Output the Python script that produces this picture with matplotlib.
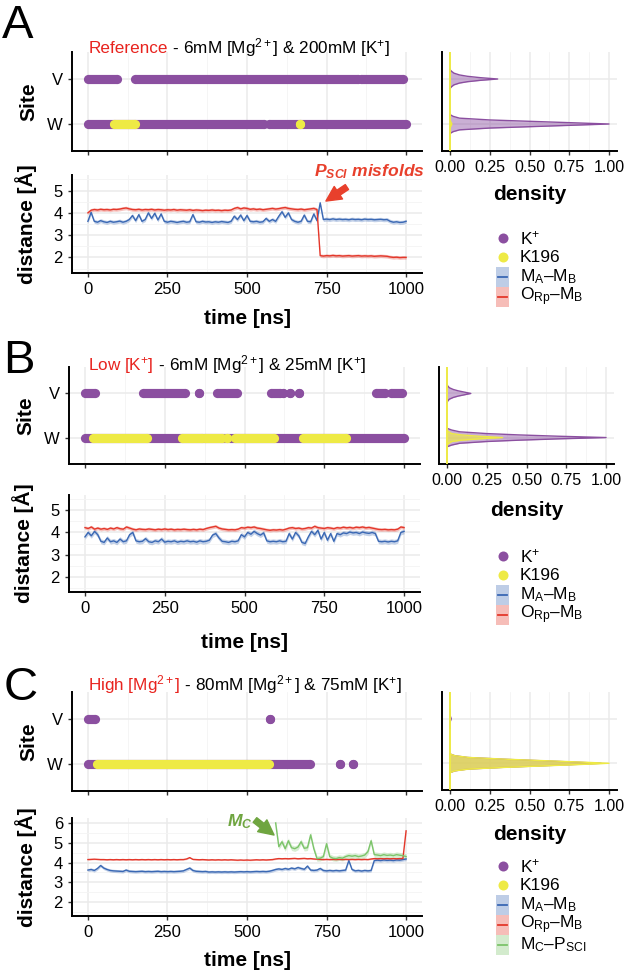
import numpy as np
import matplotlib
matplotlib.use('Agg')
import matplotlib.pyplot as plt
from matplotlib.patches import Rectangle
from matplotlib.ticker import NullLocator

plt.rcParams['font.family'] = ['Liberation Sans', 'DejaVu Sans']
plt.rcParams['mathtext.fontset'] = 'custom'
plt.rcParams['mathtext.rm'] = 'Liberation Sans'
plt.rcParams['mathtext.sf'] = 'Liberation Sans'
plt.rcParams['mathtext.it'] = 'Liberation Sans:italic'
plt.rcParams['mathtext.bf'] = 'Liberation Sans:bold'
plt.rcParams['mathtext.bfit'] = 'Liberation Sans:italic:bold'

# ---------------- data ----------------
time_ns = np.arange(0, 1001, 10)
time_mc = np.arange(590, 1001, 10)
time_ticks = [0, 250, 500, 750, 1000]
density_ticks = [0.0, 0.25, 0.5, 0.75, 1.0]
site_labels = ['W', 'V']          # y positions 1, 2

# site occupancy (start, end) in ns
A_kplus_V = [(0, 91), (149, 848), (858, 990)]
A_kplus_W = [(0, 552), (568, 1000)]
A_k196_W = [(81, 149), (667, 667)]

B_kplus_V = [(0, 30), (183, 313), (358, 358), (415, 478), (582, 611), (620, 620),
             (643, 643), (672, 672), (912, 940), (958, 993)]
B_kplus_W = [(0, 1000)]
B_k196_W = [(26, 193), (303, 368), (376, 428), (444, 444), (470, 592), (684, 817)]

C_kplus_V = [(0, 23), (571, 571)]
C_kplus_W = [(0, 698), (793, 793), (832, 832)]
C_k196_W = [(28, 568)]

# distances [A]
A_ORp = [4.00, 4.12, 4.15, 4.13, 4.16, 4.14, 4.15, 4.13, 4.16, 4.15,
         4.17, 4.20, 4.22, 4.18, 4.15, 4.14, 4.16, 4.13, 4.15, 4.14,
         4.16, 4.13, 4.15, 4.14, 4.12, 4.14, 4.13, 4.15, 4.12, 4.14,
         4.13, 4.12, 4.14, 4.11, 4.13, 4.12, 4.10, 4.12, 4.11, 4.13,
         4.11, 4.12, 4.10, 4.12, 4.11, 4.13, 4.20, 4.24, 4.18, 4.22,
         4.20, 4.16, 4.18, 4.15, 4.17, 4.14, 4.16, 4.18, 4.20, 4.17,
         4.19, 4.22, 4.24, 4.20, 4.18, 4.16, 4.15, 4.17, 4.14, 4.16,
         4.18, 4.20, 4.15, 2.08, 2.06, 2.08, 2.07, 2.09, 2.07, 2.08,
         2.06, 2.07, 2.08, 2.06, 2.07, 2.08, 2.06, 2.07, 2.06, 2.07,
         2.05, 2.06, 2.07, 2.06, 2.05, 2.02, 2.00, 2.01, 1.99, 2.00,
         2.00]
A_MA = [3.62, 4.02, 3.62, 3.58, 3.65, 3.60, 3.57, 3.62, 3.58, 3.60,
        3.63, 3.58, 3.62, 3.70, 3.88, 3.65, 3.92, 3.62, 3.70, 4.00,
        3.75, 3.98, 3.68, 3.95, 3.62, 3.58, 3.62, 3.60, 3.57, 3.60,
        3.62, 3.58, 3.60, 3.92, 3.60, 3.58, 3.62, 3.59, 3.60, 3.57,
        3.60, 3.58, 3.61, 3.59, 3.57, 3.62, 3.85, 3.70, 3.90, 3.65,
        3.88, 3.62, 3.60, 3.62, 3.58, 3.60, 3.75, 3.62, 3.70, 3.62,
        3.85, 4.05, 3.80, 4.00, 3.70, 3.62, 3.58, 3.62, 3.90, 3.62,
        3.60, 3.95, 3.65, 4.45, 3.70, 3.72, 3.70, 3.73, 3.70, 3.72,
        3.70, 3.71, 3.69, 3.72, 3.70, 3.71, 3.69, 3.72, 3.70, 3.71,
        3.69, 3.70, 3.71, 3.69, 3.70, 3.62, 3.58, 3.60, 3.57, 3.58,
        3.62]
B_ORp = [4.22, 4.18, 4.25, 4.15, 4.20, 4.15, 4.18, 4.14, 4.20, 4.16,
         4.22, 4.17, 4.15, 4.25, 4.20, 4.15, 4.12, 4.16, 4.14, 4.13,
         4.16, 4.14, 4.12, 4.15, 4.13, 4.16, 4.13, 4.15, 4.12, 4.14,
         4.13, 4.15, 4.13, 4.12, 4.14, 4.12, 4.15, 4.13, 4.18, 4.22,
         4.25, 4.28, 4.20, 4.16, 4.14, 4.12, 4.13, 4.12, 4.15, 4.22,
         4.20, 4.24, 4.22, 4.25, 4.20, 4.18, 4.15, 4.12, 4.10, 4.12,
         4.11, 4.13, 4.11, 4.15, 4.20, 4.22, 4.18, 4.20, 4.16, 4.18,
         4.22, 4.20, 4.28, 4.22, 4.20, 4.18, 4.22, 4.20, 4.17, 4.22,
         4.20, 4.24, 4.21, 4.23, 4.20, 4.24, 4.22, 4.25, 4.21, 4.23,
         4.20, 4.17, 4.14, 4.13, 4.14, 4.12, 4.13, 4.12, 4.15, 4.25,
         4.22]
B_MA = [3.80, 4.00, 3.85, 4.05, 3.90, 3.60, 3.55, 3.75, 3.58, 3.62,
        3.55, 3.70, 3.58, 3.62, 3.90, 4.00, 3.62, 3.58, 3.60, 3.72,
        3.58, 3.55, 3.62, 3.58, 3.70, 3.56, 3.60, 3.58, 3.62, 3.56,
        3.60, 3.58, 3.62, 3.58, 3.60, 3.56, 3.62, 3.58, 3.60, 3.65,
        3.88, 3.95, 3.75, 3.60, 3.58, 3.55, 3.60, 3.58, 3.62, 3.90,
        3.80, 4.00, 3.92, 4.05, 3.95, 3.88, 3.98, 3.62, 3.58, 3.60,
        3.58, 3.62, 3.58, 3.60, 3.95, 3.70, 4.00, 3.85, 3.55, 3.50,
        3.80, 4.05, 3.90, 4.10, 3.70, 4.00, 3.65, 3.95, 3.60, 3.95,
        3.90, 3.98, 3.95, 4.02, 3.98, 4.00, 3.95, 4.02, 3.98, 3.96,
        4.00, 3.95, 3.60, 3.58, 3.60, 3.57, 3.60, 3.58, 3.62, 4.00,
        4.05]
C_ORp = [4.15, 4.16, 4.17, 4.16, 4.15, 4.15, 4.14, 4.15, 4.14, 4.15,
         4.14, 4.15, 4.14, 4.15, 4.14, 4.15, 4.14, 4.15, 4.14, 4.15,
         4.14, 4.15, 4.14, 4.15, 4.14, 4.15, 4.14, 4.15, 4.14, 4.15,
         4.15, 4.18, 4.25, 4.16, 4.15, 4.14, 4.15, 4.14, 4.13, 4.14,
         4.13, 4.14, 4.13, 4.14, 4.13, 4.14, 4.13, 4.12, 4.13, 4.12,
         4.13, 4.12, 4.13, 4.14, 4.13, 4.14, 4.13, 4.14, 4.15, 4.18,
         4.20, 4.19, 4.20, 4.19, 4.20, 4.21, 4.19, 4.20, 4.21, 4.19,
         4.20, 4.18, 4.17, 4.16, 4.15, 4.16, 4.15, 4.16, 4.15, 4.16,
         4.15, 4.16, 4.15, 4.16, 4.15, 4.16, 4.15, 4.16, 4.15, 4.18,
         4.20, 4.19, 4.20, 4.19, 4.20, 4.19, 4.20, 4.19, 4.20, 4.20,
         5.60]
C_MA = [3.62, 3.65, 3.60, 3.70, 3.85, 3.72, 3.65, 3.60, 3.58, 3.57,
        3.56, 3.55, 3.62, 3.56, 3.55, 3.54, 3.55, 3.56, 3.54, 3.55,
        3.54, 3.55, 3.56, 3.54, 3.55, 3.54, 3.55, 3.54, 3.55, 3.56,
        3.58, 3.65, 3.72, 3.60, 3.56, 3.55, 3.54, 3.55, 3.52, 3.53,
        3.52, 3.53, 3.52, 3.53, 3.52, 3.53, 3.52, 3.53, 3.54, 3.53,
        3.54, 3.53, 3.54, 3.55, 3.54, 3.55, 3.54, 3.56, 3.60, 3.65,
        3.68, 3.65, 3.70, 3.66, 3.72, 3.68, 3.75, 3.70, 3.66, 3.82,
        3.62, 3.60, 3.62, 3.70, 3.60, 3.58, 3.60, 3.58, 3.60, 3.58,
        3.60, 3.62, 4.10, 3.65, 3.58, 3.60, 3.57, 3.60, 3.58, 3.60,
        4.10, 4.12, 4.10, 4.13, 4.11, 4.12, 4.10, 4.13, 4.12, 4.15,
        4.18]
C_MC = [6.00, 4.80, 5.05, 4.70, 5.10, 4.75, 4.70, 4.78, 5.05, 4.72,
        4.75, 5.40, 4.70, 4.20, 4.22, 4.30, 4.95, 4.30, 4.22, 4.20,
        4.25, 4.22, 4.30, 4.35, 4.32, 4.35, 4.30, 4.33, 4.38, 4.55,
        5.10, 4.40, 4.38, 4.35, 4.40, 4.36, 4.38, 4.35, 4.40, 4.37,
        4.35, 4.30]

# ribbon half-widths [A]
A_spread = {'MA': 0.09, 'ORp': 0.08}
B_spread = {'MA': 0.11, 'ORp': 0.08}
C_spread = {'MA': 0.08, 'ORp': 0.03, 'MC': 0.14}

# scaled densities vs offset from site level
dens_offset = [0.00, 0.03, 0.06, 0.09, 0.13, 0.17, 0.21]
A_dens_kplus_W = [1.00, 0.75, 0.50, 0.25, 0.06, 0.02, 0.00]
A_dens_kplus_V = [0.30, 0.19, 0.11, 0.06, 0.025, 0.01, 0.00]
A_dens_k196_W = [0.012, 0.008, 0.004, 0.002, 0.0, 0.0, 0.0]
B_dens_kplus_W = [1.00, 0.70, 0.45, 0.25, 0.08, 0.03, 0.00]
B_dens_kplus_V = [0.15, 0.11, 0.07, 0.04, 0.015, 0.005, 0.00]
B_dens_k196_W = [0.35, 0.20, 0.09, 0.03, 0.01, 0.0, 0.0]
C_dens_kplus_W = [0.95, 0.76, 0.55, 0.34, 0.11, 0.03, 0.0]
C_dens_kplus_V = [0.008, 0.005, 0.002, 0.0, 0.0, 0.0, 0.0]
C_dens_k196_W = [1.00, 0.80, 0.58, 0.36, 0.12, 0.03, 0.00]

# ---------------- style ----------------
PURPLE = '#8B4FA0'
YELLOW = '#EEEA45'
BLUE = '#3A68B4'
RED = '#E4372A'
GREEN = '#7CC46A'
ANN_RED = '#E8402C'
ANN_GREEN = '#6FA540'
GRID_MAJ = '#EBEBEB'
GRID_MIN = '#F4F4F4'

W, H = 628, 975
fig = plt.figure(figsize=(W / 100, H / 100), dpi=100)


def add_ax(l, t, r, b):
    return fig.add_axes([l / W, 1 - b / H, (r - l) / W, (b - t) / H])


def base_style(ax, labelsize=12):
    for s in ['top', 'right']:
        ax.spines[s].set_visible(False)
    for s in ['left', 'bottom']:
        ax.spines[s].set_linewidth(1.4)
        ax.spines[s].set_color('black')
    ax.tick_params(axis='both', which='major', length=3, width=1.0, color='#333333',
                   labelsize=labelsize, pad=3.5, labelcolor='black')
    ax.tick_params(which='minor', length=0)
    ax.set_axisbelow(True)
    ax.grid(True, which='major', color=GRID_MAJ, lw=1.1)
    ax.grid(True, which='minor', color=GRID_MIN, lw=0.6)


def site_panel(ax, kV, kW, k196W):
    base_style(ax)
    ax.set_xlim(-50, 1050)
    ax.set_ylim(0.4, 2.6)
    ax.set_xticks(time_ticks)
    ax.set_xticks([125, 375, 625, 875], minor=True)
    ax.set_xticklabels([])
    ax.set_yticks([1, 2])
    ax.set_yticklabels(site_labels)
    ax.yaxis.set_minor_locator(NullLocator())
    for ivs, y, c, z in [(kV, 2, PURPLE, 3), (kW, 1, PURPLE, 3), (k196W, 1, YELLOW, 4)]:
        for s, e in ivs:
            ax.plot([s, e], [y, y], color=c, lw=6.6, solid_capstyle='butt',
                    marker='o', ms=6.6, mec='none', zorder=z)


def dist_panel(ax, series, ylim, yticks, yminor):
    base_style(ax)
    ax.set_xlim(-50, 1050)
    ax.set_ylim(*ylim)
    ax.set_xticks(time_ticks)
    ax.set_xticks([125, 375, 625, 875], minor=True)
    ax.set_yticks(yticks)
    ax.set_yticks(yminor, minor=True)
    for t, v, sp, col in series:
        v = np.asarray(v)
        ax.fill_between(t, v - sp, v + sp, color=col, alpha=0.3, lw=0, zorder=2)
    for t, v, sp, col in series:
        ax.plot(t, v, color=col, lw=1.0, zorder=3)


def dens_panel(ax, profiles, alphas):
    base_style(ax, labelsize=11.5)
    ax.set_xlim(-0.05, 1.05)
    ax.set_ylim(0.4, 2.6)
    ax.set_xticks(density_ticks)
    ax.set_xticklabels(['%.2f' % v for v in density_ticks])
    ax.set_xticks([0.125, 0.375, 0.625, 0.875], minor=True)
    ax.set_yticks([1, 2])
    ax.set_yticklabels([])
    ax.yaxis.set_minor_locator(NullLocator())
    ax.tick_params(axis='y', length=0)
    off = np.asarray(dens_offset)
    for (site_y, vals, col, z), a in zip(profiles, alphas):
        vals = np.asarray(vals)
        ys = np.concatenate([site_y - off[::-1], site_y + off[1:]])
        xs = np.concatenate([vals[::-1], vals[1:]])
        ax.fill_betweenx(ys, 0, xs, color=col, alpha=a, lw=0, zorder=z)
        ax.plot(xs, ys, color=col, lw=1.0, zorder=z + 0.5)
    ax.plot([0, 0], [0.4, 2.6], color=YELLOW, lw=1.4, zorder=6)


# ---------------- panels ----------------
# A
axA1 = add_ax(72, 52, 422, 151)
site_panel(axA1, A_kplus_V, A_kplus_W, A_k196_W)
axA2 = add_ax(72, 175, 422, 273)
dist_panel(axA2, [(time_ns, A_MA, A_spread['MA'], BLUE), (time_ns, A_ORp, A_spread['ORp'], RED)],
           (1.3, 5.7), [2, 3, 4, 5], [1.5, 2.5, 3.5, 4.5, 5.5])
axA3 = add_ax(442, 52, 617, 151)
dens_panel(axA3, [(2, A_dens_kplus_V, PURPLE, 2), (1, A_dens_kplus_W, PURPLE, 2),
                  (1, A_dens_k196_W, YELLOW, 4)], [0.45, 0.45, 0.6])

# B
axB1 = add_ax(69, 367, 420, 464)
site_panel(axB1, B_kplus_V, B_kplus_W, B_k196_W)
axB2 = add_ax(69, 495, 420, 592)
dist_panel(axB2, [(time_ns, B_MA, B_spread['MA'], BLUE), (time_ns, B_ORp, B_spread['ORp'], RED)],
           (1.3, 5.7), [2, 3, 4, 5], [1.5, 2.5, 3.5, 4.5, 5.5])
axB3 = add_ax(439, 367, 614, 464)
dens_panel(axB3, [(2, B_dens_kplus_V, PURPLE, 2), (1, B_dens_kplus_W, PURPLE, 2),
                  (1, B_dens_k196_W, YELLOW, 4)], [0.45, 0.45, 0.65])

# C
axC1 = add_ax(72, 692, 422, 791)
site_panel(axC1, C_kplus_V, C_kplus_W, C_k196_W)
axC2 = add_ax(72, 818, 422, 916)
dist_panel(axC2, [(time_ns, C_MA, C_spread['MA'], BLUE), (time_ns, C_ORp, C_spread['ORp'], RED),
                  (time_mc, C_MC, C_spread['MC'], GREEN)],
           (1.3, 6.25), [2, 3, 4, 5, 6], [1.5, 2.5, 3.5, 4.5, 5.5])
axC3 = add_ax(442, 692, 617, 790)
dens_panel(axC3, [(2, C_dens_kplus_V, PURPLE, 2), (1, C_dens_kplus_W, PURPLE, 2),
                  (1, C_dens_k196_W, YELLOW, 4)], [0.5, 0.55, 0.7])

# annotations
axA2.annotate('', xy=(748, 4.53), xytext=(814, 5.16), annotation_clip=False,
              arrowprops=dict(arrowstyle='simple,head_width=0.9,head_length=0.9,tail_width=0.35',
                              color=ANN_RED, mutation_scale=12, shrinkA=0, shrinkB=0))
axA2.text(709, 5.86, r'$\mathbfit{P}_{\mathbfit{SCI}}$ misfolds', color=ANN_RED, fontsize=12.6,
          fontweight='bold', style='italic', ha='left', va='center', clip_on=False)
axC2.annotate('', xy=(585, 5.39), xytext=(525, 6.15), annotation_clip=False,
              arrowprops=dict(arrowstyle='simple,head_width=0.9,head_length=0.9,tail_width=0.35',
                              color=ANN_GREEN, mutation_scale=12, shrinkA=0, shrinkB=0))
axC2.text(436, 6.07, r'$\mathbfit{M}_{\mathbfit{C}}$', color=ANN_GREEN, fontsize=12.6,
          ha='left', va='center', clip_on=False)

# ---------------- overlay texts ----------------
ov = fig.add_axes([0, 0, 1, 1])
ov.set_xlim(0, W)
ov.set_ylim(H, 0)
ov.axis('off')

for letter, x, y in [('A', 2, 38), ('B', 3, 373), ('C', 4, 700)]:
    ov.text(x, y, letter, fontsize=34, va='baseline', ha='left')

titles = [('Reference', r' - 6mM [Mg$^{2+}$] & 200mM [K$^{+}$]', 89, 53),
          (r'Low [K$^{+}$]', r' - 6mM [Mg$^{2+}$] & 25mM [K$^{+}$]', 88, 370),
          (r'High [Mg$^{2+}$]', r' - 80mM [Mg$^{2+}$] & 75mM [K$^{+}$]', 88, 690)]
red_texts = []
for red, rest, x, y in titles:
    red_texts.append((ov.text(x, y, red, color='#E8231E', fontsize=12.3, va='baseline', ha='left'), rest, y))
fig.canvas.draw()
for t, rest, y in red_texts:
    bb = t.get_window_extent()
    ov.text(bb.x1, y, rest, color='black', fontsize=12.3, va='baseline', ha='left')

# axis titles
for yc, dx in [((52 + 151) / 2, 0), ((367 + 464) / 2, -3), ((692 + 791) / 2, 0)]:
    ov.text(29 + dx, yc, 'Site', rotation=90, fontsize=15, fontweight='bold', ha='center', va='center')
for yc, dx in [((175 + 273) / 2, 0), ((495 + 592) / 2, -3), ((818 + 916) / 2, 0)]:
    ov.text(26 + dx, yc, 'distance [Å]', rotation=90, fontsize=15, fontweight='bold', ha='center', va='center')
for xc, yc in [(247, 318), (244.5, 643), (247, 960)]:
    ov.text(xc, yc, 'time [ns]', fontsize=15, fontweight='bold', ha='center', va='center')
for xc, yc in [(529.5, 195), (526.5, 510), (529.5, 834)]:
    ov.text(xc, yc, 'density', fontsize=15, fontweight='bold', ha='center', va='center')

# legends
leg_labels = [r'K$^{+}$', 'K196', r'M$_{\mathrm{A}}$–M$_{\mathrm{B}}$',
              r'O$_{\mathrm{Rp}}$–M$_{\mathrm{B}}$', r'M$_{\mathrm{C}}$–P$_{\mathrm{SCI}}$']
leg_colors = [PURPLE, YELLOW, BLUE, RED, GREEN]
legend_rows = [[238, 257, 277, 297],
               [556, 575, 595, 615],
               [866, 885, 905, 925, 945]]
KX, TX = 502.5, 520
for rows in legend_rows:
    for i, y in enumerate(rows):
        col = leg_colors[i]
        if i < 2:
            ov.plot(KX, y, 'o', ms=7.2, color=col, mec='none')
        else:
            ov.add_patch(Rectangle((KX - 6.5, y - 10), 13, 20, facecolor=col, alpha=0.33,
                                   edgecolor='none'))
            ov.plot([KX - 4.5, KX + 4.5], [y, y], color=col, lw=1.3)
        ov.text(TX, y, leg_labels[i], fontsize=12.5, ha='left', va='center')

fig.savefig('out.png', dpi=100)
